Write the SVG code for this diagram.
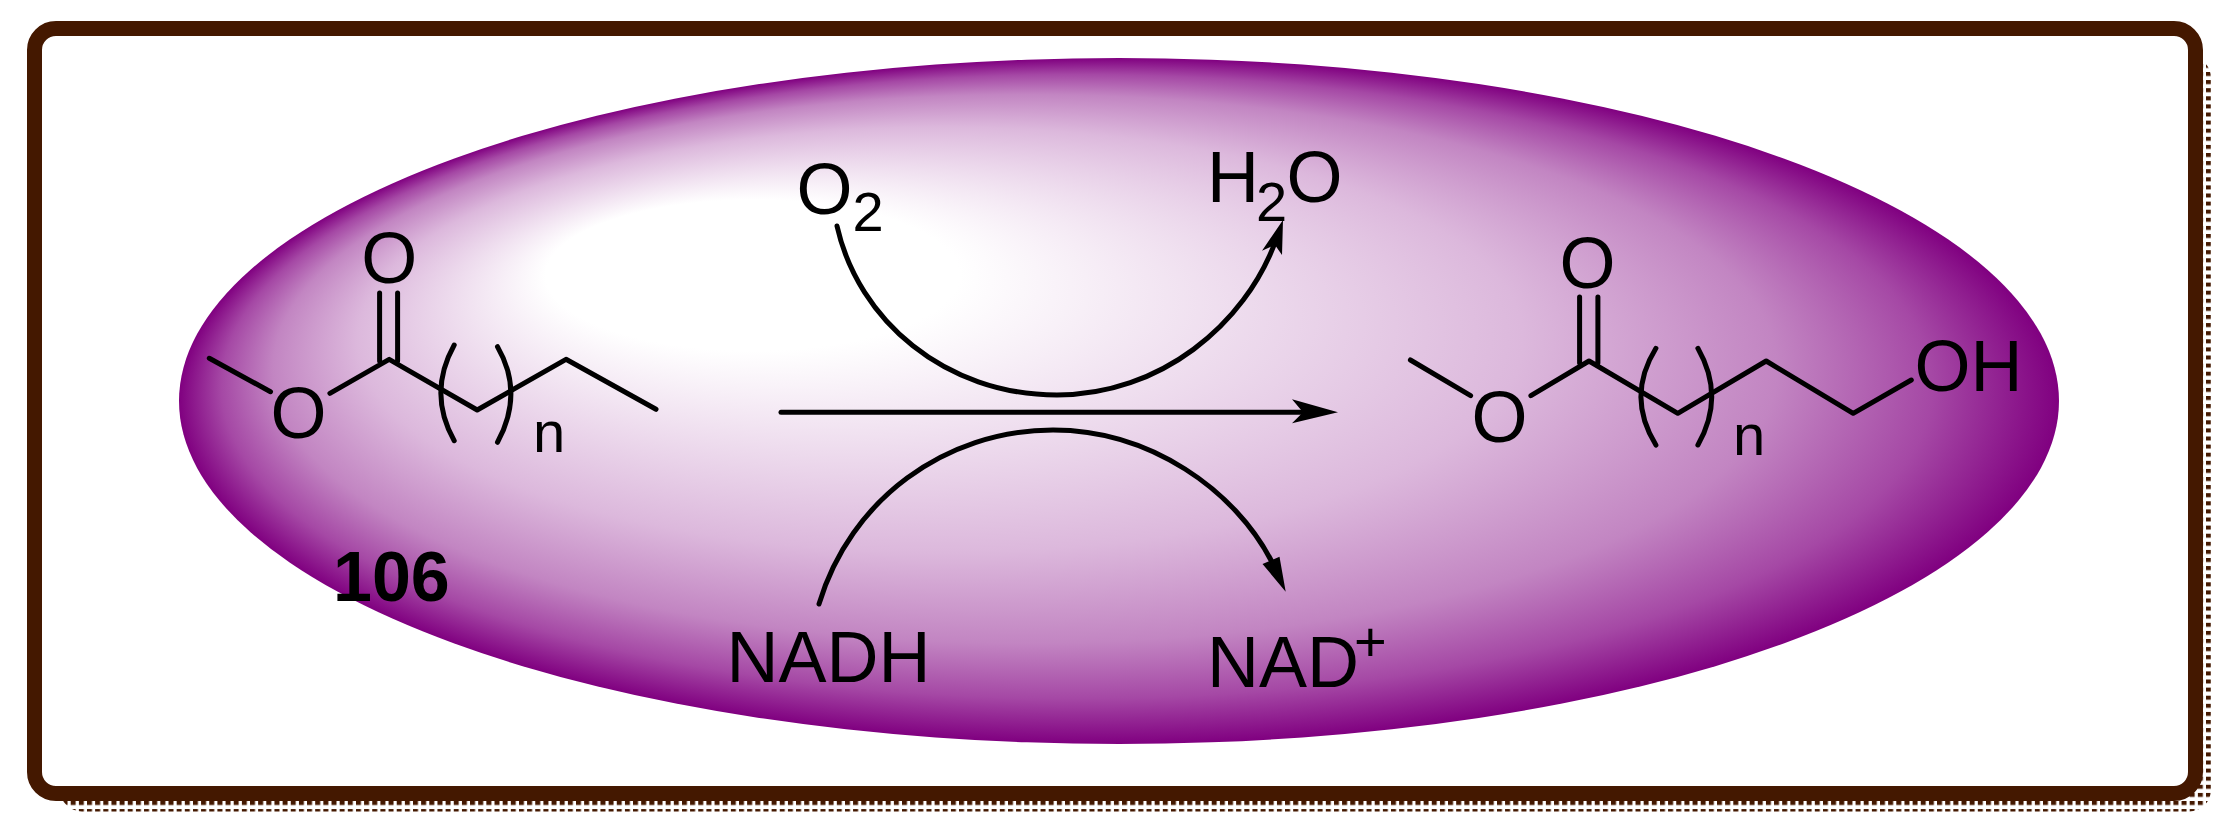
<svg xmlns="http://www.w3.org/2000/svg" width="2226" height="830" viewBox="0 0 2226 830">
<style>
text{font-family:"Liberation Sans",Arial,sans-serif;fill:#000}
.a{font-size:72px}.sub{font-size:56px}.n{font-size:58px}.m{font-size:72px;text-anchor:middle}.b{font-size:70px;font-weight:bold}
.bond{fill:none;stroke:#000;stroke-width:5;stroke-linecap:round;stroke-linejoin:round}
.arr{fill:none;stroke:#000;stroke-width:5;stroke-linecap:round}
</style>
<defs>
<radialGradient id="g" cx=".5" cy=".5" r=".5" fx=".25" fy=".265">
<stop offset=".22" stop-color="#fff"/>
<stop offset=".62" stop-color="#dcb8dc"/>
<stop offset=".8" stop-color="#c285c2"/>
<stop offset=".91" stop-color="#a548a5"/>
<stop offset="1" stop-color="#800080"/>
</radialGradient>
<pattern id="dots" patternUnits="userSpaceOnUse" x="2206" y="801" width="8.15" height="8.1"><rect width="5" height="4" fill="#441800"/></pattern>
</defs>
<rect width="2226" height="830" fill="#fff"/>
<g id="frame">
<rect x="60" y="56" width="2151" height="755.500" rx="22" fill="url(#dots)"/>
<rect x="34.500" y="28.500" width="2161" height="765" rx="21.500" fill="#fff" stroke="#441800" stroke-width="15"/>
</g>
<g id="ellipse"><ellipse cx="1119" cy="401" rx="940" ry="343" fill="url(#g)"/></g>
<g id="substrate">
<path class="bond" d="M209.300,358.300L270.500,391.700M329.900,393.300L389.200,359.300L477.200,410L566,359.300L656,409.300M379.600,293V361M397.600,293V361"/>
<path class="bond" d="M454.200,345Q427.500,393 454.200,440.700M497.500,346.700Q524.300,393 497.500,442.300"/>
<text class="m" x="298.500" y="437.500">O</text>
<text class="m" x="389.200" y="283">O</text>
<text class="n" x="533" y="452">n</text>
<text class="b" x="333" y="600.500">106</text>
</g>
<g id="product">
<path class="bond" d="M1410.400,360L1470.600,395.700M1530.900,395.700L1589,361L1677.800,413.300L1766.200,361L1853.200,413.300L1911.300,380M1579.600,297V363M1597.900,297V363"/>
<path class="bond" d="M1655.900,348.300Q1626,396.700 1655.900,445M1697.900,348.300Q1725.500,396.700 1697.900,445"/>
<text class="m" x="1499.600" y="441.500">O</text>
<text class="m" x="1587.600" y="287.500">O</text>
<text class="n" x="1733" y="455">n</text>
<text class="a" x="1914.500" y="390.700">OH</text>
</g>
<g id="o2"><text class="a" x="796.500" y="213.500">O<tspan class="sub" x="852.500" y="230.700">2</tspan></text></g>
<g id="h2o"><text class="a" x="1207" y="201.700">H<tspan class="sub" x="1256" y="220.700">2</tspan><tspan x="1286.500" y="201.700">O</tspan></text></g>
<g id="nadh"><text class="a" x="726.500" y="681.700">NADH</text></g>
<g id="nad"><text class="a" x="1207" y="686.700">NAD<tspan class="sub" x="1354" y="661">+</tspan></text></g>
<g id="connectors">
<path class="arr" d="M781,412.300H1305"/>
<path d="M1338,412.300L1292,399.300L1303,412.300L1292,423.300Z"/>
<path class="arr" d="M837,226C858,320 945,395 1057,395C1160,395 1245,325 1276,240"/>
<path d="M1283,220L1262,250.700L1275,245L1282,255Z"/>
<path class="arr" d="M819,604C850,500 945,430 1053,430C1150,430 1235,490 1272,562"/>
<path d="M1285.700,591.700L1262.500,564L1272,560L1279.500,556.700Z"/>
</g>
</svg>
